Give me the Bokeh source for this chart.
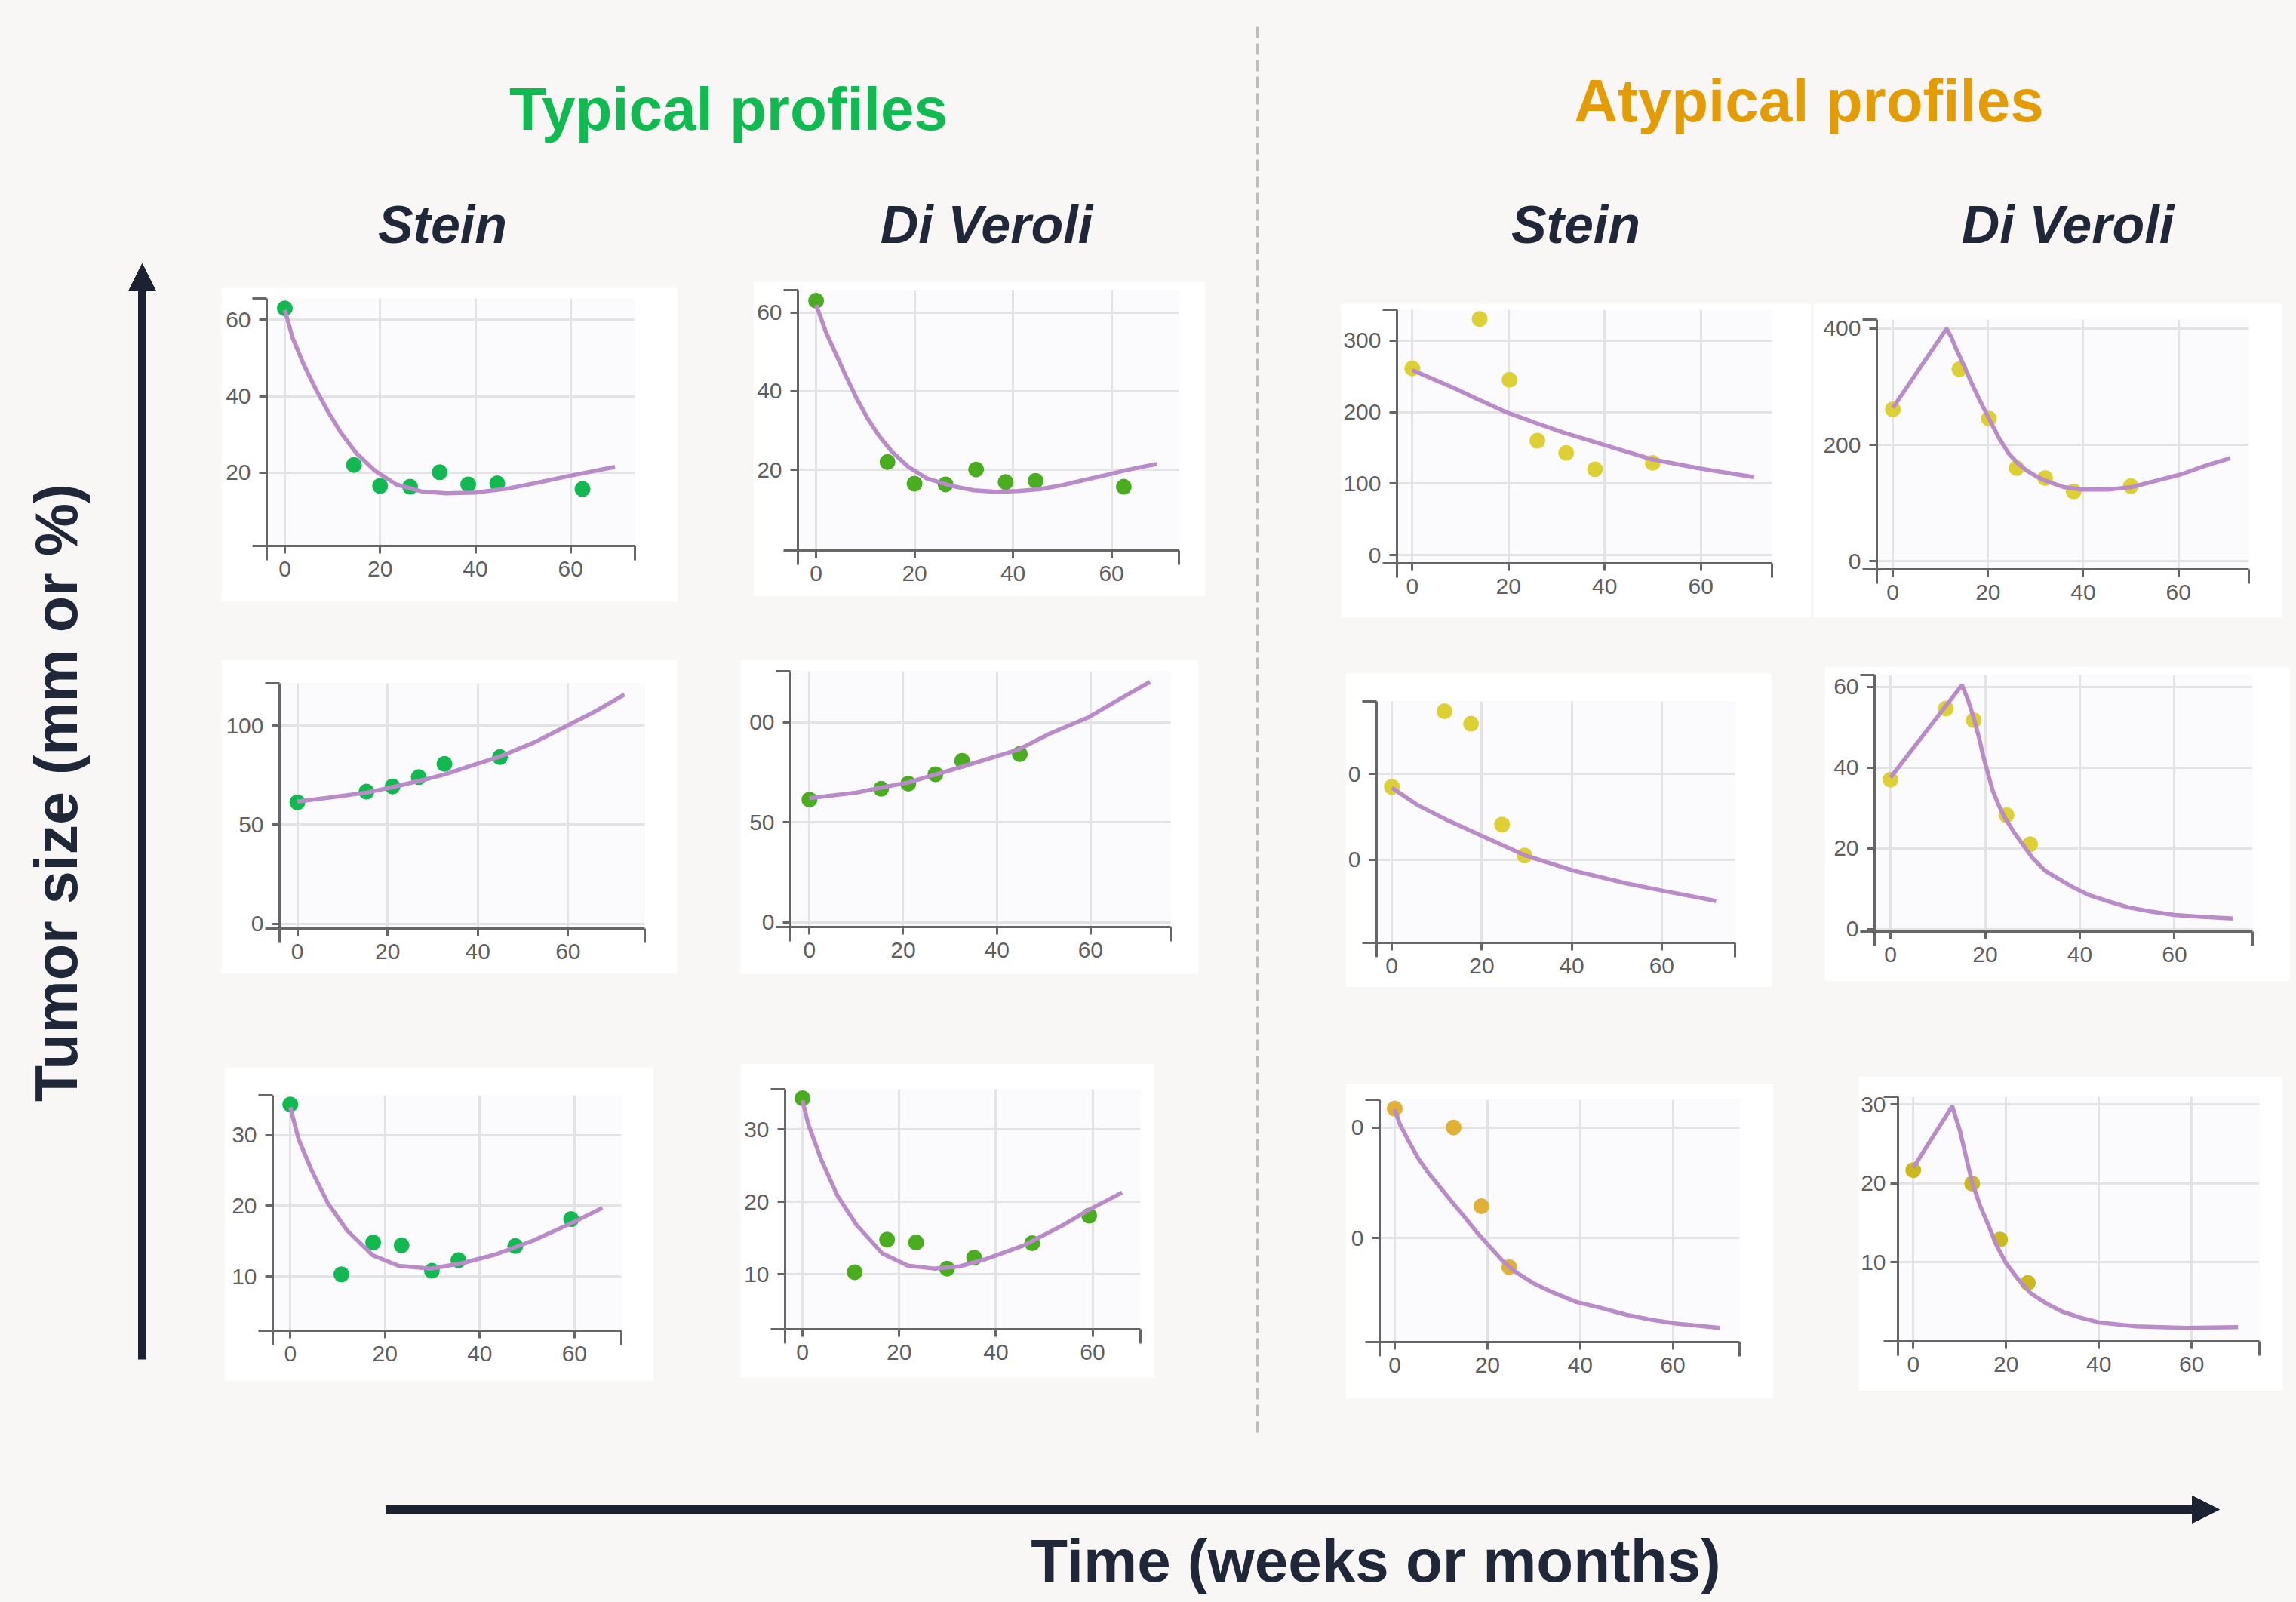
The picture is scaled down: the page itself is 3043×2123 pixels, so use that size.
import math
from bokeh.plotting import figure
from bokeh.models import Range1d, FixedTicker, Label, Arrow, NormalHead, Spacer
from bokeh.layouts import row, column
from bokeh.embed import file_html
from bokeh.resources import INLINE

# ------------------------------------------------------------------ data
time_ticks = [0, 20, 40, 60]

# observed tumour sizes (shared by the Stein and Di Veroli panels of a row)
typ_r1_t = [0, 14.5, 20.0, 26.3, 32.5, 38.5, 44.6, 62.5]
typ_r1_y = [63.0, 22.0, 16.5, 16.3, 20.1, 16.9, 17.2, 15.7]
typ_r2_t = [0, 15.3, 21.1, 26.9, 32.6, 44.9]
typ_r2_y = [61.3, 66.7, 69.3, 74.0, 80.7, 84.1]
typ_r3_t = [0, 10.8, 17.5, 23.5, 29.9, 35.5, 47.5, 59.3]
typ_r3_y = [34.3, 10.3, 14.8, 14.4, 10.8, 12.3, 14.3, 18.1]
aty_r1_t = [0, 14.0, 20.2, 26.0, 32.0, 38.0, 50.0]
aty_r1_y = [261, 330, 245, 160, 143, 120, 129]
aty_r2_t = [0, 11.7, 17.6, 24.5, 29.5]
aty_r2_y = [37.0, 54.6, 51.7, 28.2, 21.0]
aty_r3_t = [0, 12.7, 18.7, 24.7]
aty_r3_y = [21.7, 20.0, 12.9, 7.4]

# fitted model curves
stein_typ1_fit_t = [0, 1.6, 4.0, 6.6, 9.2, 11.8, 15.0, 18.9, 23.4, 28.6, 33.8, 40.2, 46.7, 53.2, 59.6, 69.3]
stein_typ1_fit_y = [62.6, 55.4, 48.2, 41.6, 35.7, 30.4, 25.1, 20.5, 16.9, 15.1, 14.6, 14.8, 15.8, 17.4, 19.1, 21.5]
dive_typ1_fit_t = [0, 2.0, 4.0, 6.0, 8.3, 10.5, 12.8, 15.5, 18.7, 22.5, 27.6, 32.0, 36.6, 41.0, 45.5, 50.0, 54.4, 59.0, 63.3, 69.2]
dive_typ1_fit_y = [61.9, 55.0, 49.5, 44.0, 38.0, 33.0, 28.6, 24.5, 20.8, 17.8, 15.9, 14.8, 14.4, 14.6, 15.1, 16.1, 17.4, 18.7, 20.0, 21.5]
stein_typ2_fit_t = [0, 6.7, 15.3, 21.0, 28.1, 32.7, 38.2, 45.0, 52.5, 60.0, 66.7, 72.5]
stein_typ2_fit_y = [61.7, 63.6, 66.2, 68.9, 72.7, 75.4, 79.5, 84.5, 91.5, 100.1, 108.0, 115.6]
dive_typ2_fit_t = [0, 10.0, 14.9, 21.0, 32.1, 44.5, 51.3, 59.6, 66.5, 72.7]
dive_typ2_fit_y = [62.0, 64.8, 67.1, 69.8, 77.4, 86.2, 94.3, 102.5, 112.0, 120.2]
stein_typ3_fit_t = [0, 1.8, 4.5, 7.9, 12.0, 17.4, 22.9, 29.7, 36.5, 43.3, 51.4, 59.6, 65.9]
stein_typ3_fit_y = [33.9, 29.3, 25.0, 20.4, 16.5, 13.0, 11.5, 11.1, 11.9, 13.1, 15.1, 17.6, 19.7]
dive_typ3_fit_t = [0, 1.2, 3.9, 7.2, 11.2, 16.5, 21.8, 27.2, 32.5, 37.9, 45.8, 53.9, 59.2, 66.1]
dive_typ3_fit_y = [34.0, 30.7, 25.8, 20.9, 16.8, 12.9, 11.2, 10.8, 11.1, 12.1, 14.0, 16.8, 18.9, 21.3]
stein_aty1_fit_t = [0, 8.5, 13.5, 19.9, 25.7, 31.4, 40.3, 49.9, 59.5, 71.0]
stein_aty1_fit_y = [258.6, 234.0, 218.2, 198.8, 184.8, 171.4, 153.2, 133.9, 121.5, 109.2]
dive_aty1_fit_t = [0, 11.3, 12.3, 13.3, 14.9, 16.5, 18.4, 20.4, 22.3, 24.3, 26.2, 28.2, 30.1, 32.1, 35.9,
                   39.8, 45.0, 50.2, 55.3, 60.5, 65.7, 70.9]
dive_aty1_fit_y = [263.5, 399.6, 384.5, 365.0, 337.0, 306.7, 274.3, 241.9, 211.7, 185.7, 168.5, 155.5, 146.0,
                   138.2, 127.4, 123.1, 123.1, 127.4, 138.2, 149.1, 164.1, 177.1]
stein_aty2_fit_t = [0, 5.8, 12.4, 20.4, 29.7, 40.3, 52.2, 60.2, 72.1]
stein_aty2_fit_y = [36.8, 32.7, 29.2, 25.4, 21.0, 17.5, 14.5, 12.8, 10.4]
dive_aty2_fit_t = [0, 15.1, 16.4, 17.7, 18.7, 19.7, 20.7, 21.6, 22.9, 24.2, 26.2, 28.1, 30.1, 32.7, 35.3,
                   38.5, 41.8, 45.7, 50.2, 54.8, 60.0, 65.2, 72.4]
dive_aty2_fit_y = [37.5, 60.4, 56.7, 51.8, 47.4, 42.4, 38.1, 34.3, 30.6, 27.5, 23.8, 20.7, 17.5, 14.4, 12.6,
                   10.4, 8.5, 7.0, 5.4, 4.4, 3.5, 3.1, 2.6]
stein_aty3_fit_t = [0, 1.1, 3.1, 5.1, 7.1, 9.8, 12.5, 15.1, 17.8, 20.5, 23.2, 25.9, 29.9, 33.9, 39.2,
                    44.6, 49.9, 55.3, 60.7, 70.1]
stein_aty3_fit_y = [21.65, 20.3, 18.7, 17.2, 16.0, 14.6, 13.2, 11.9, 10.5, 9.25, 8.0, 7.0, 5.95, 5.15, 4.25,
                    3.7, 3.1, 2.65, 2.3, 1.9]
dive_aty3_fit_t = [0, 8.4, 10.0, 11.3, 12.7, 14.4, 16.0, 18.0, 20.0, 22.7, 25.3, 28.7, 32.0, 36.0, 40.0,
                   48.0, 58.7, 70.0]
dive_aty3_fit_y = [22.0, 29.8, 26.8, 23.6, 20.1, 17.2, 15.0, 12.1, 9.9, 7.8, 6.1, 4.8, 3.8, 3.0, 2.4,
                   1.9, 1.7, 1.8]

# ------------------------------------------------------------------ style
PAGE_BG = "#f8f7f5"
PLOT_BG = "#fbfbfd"
AXIS_C = "#666666"
GRID_C = "#e3e3e3"
FIT_C = "#b98bc9"
DARK = "#1f2738"
ARROW_C = "#1c2232"
GREEN_T = "#0fbb50"
ORANGE_T = "#e39c04"
FONT = "Liberation Sans"

STEIN_TYP = "#12b850"
DIVE_TYP = "#4aac1f"
ATY_YEL = "#ddd035"
ATY_STEIN3 = "#e1b135"
ATY_DIVE3 = "#c9b91c"

BASELINE_FIX = 0.35   # label anchor correction (fraction of the font size)


def make_panel(box, frame, xr, yr, yticks, t, y, pcolor, ft, fy, overrides=None, ystandoff=2):
    bl, bt, br, bb = box
    fl, ftop, fr, fb = frame
    p = figure(width=br - bl, height=bb - bt, title=None,
               x_range=Range1d(*xr), y_range=Range1d(*yr),
               output_backend="svg", toolbar_location=None,
               min_border_left=fl - bl, min_border_right=br - fr,
               min_border_top=ftop - bt, min_border_bottom=bb - fb)
    p.background_fill_color = PLOT_BG
    p.border_fill_color = "#ffffff"
    p.outline_line_color = None
    ex = (xr[1] - xr[0]) * 1e-4
    ey = (yr[1] - yr[0]) * 1e-4
    p.xaxis.ticker = FixedTicker(ticks=time_ticks, minor_ticks=[xr[0] + ex, xr[1] - ex])
    p.yaxis.ticker = FixedTicker(ticks=yticks, minor_ticks=[yr[0] + ey, yr[1] - ey])
    p.xgrid.ticker = FixedTicker(ticks=time_ticks)
    p.ygrid.ticker = FixedTicker(ticks=yticks)
    for g in (p.xgrid, p.ygrid):
        g.grid_line_color = GRID_C
        g.grid_line_width = 3
    for ax in (p.xaxis, p.yaxis):
        ax.axis_label = None
        ax.axis_line_color = AXIS_C
        ax.axis_line_width = 3
        ax.major_tick_line_color = AXIS_C
        ax.major_tick_line_width = 3
        ax.minor_tick_line_color = AXIS_C
        ax.minor_tick_line_width = 3
        ax.major_tick_in = 0
        ax.minor_tick_in = 0
        ax.major_tick_out = 10
        ax.minor_tick_out = 19
        ax.major_label_text_font = FONT
        ax.major_label_text_font_size = "30px"
        ax.major_label_text_color = "#5f5f5f"
    p.xaxis.major_label_standoff = 1
    p.yaxis.major_label_standoff = ystandoff
    if overrides:
        p.yaxis.major_label_overrides = overrides
    p.scatter(t, y, size=21, fill_color=pcolor, line_color=None)
    p.line(ft, fy, line_color=FIT_C, line_width=5.5)
    return p


def deco_fig(x0, x1, y0, y1):
    p = figure(width=x1 - x0, height=y1 - y0, title=None,
               x_range=Range1d(x0, x1), y_range=Range1d(-y1, -y0),
               output_backend="svg", toolbar_location=None, min_border=0,
               x_axis_location=None, y_axis_location=None)
    p.background_fill_color = PAGE_BG
    p.border_fill_color = PAGE_BG
    p.outline_line_color = None
    p.grid.visible = False
    return p


def add_text(p, x, y, text, size, color, style="bold", angle=0.0):
    # (x, y) = wanted baseline centre in page pixels
    d = BASELINE_FIX * size
    lx = x - d * math.sin(angle)
    ly = -(y - d * math.cos(angle))
    p.add_layout(Label(x=lx, y=ly, text=text, text_font=FONT,
                       text_font_size=f"{size}px", text_font_style=style,
                       text_color=color, text_align="center",
                       text_baseline="alphabetic", angle=angle))


def spacer(w, h):
    return Spacer(width=w, height=h, styles={"background-color": PAGE_BG})


# ------------------------------------------------------------------ panels
# (box = white card, frame = plot area; page pixel positions)
GEOM = {}


def panel(name, box, frame, *args, **kw):
    f = make_panel(box, frame, *args, **kw)
    GEOM[name] = (f, box)
    return name


panel("P11", (293, 381, 898, 797), (353, 395, 841, 723), (-3.8, 73.5), (0.8, 65.6),
      [20, 40, 60], typ_r1_t, typ_r1_y, STEIN_TYP, stein_typ1_fit_t, stein_typ1_fit_y)
panel("P12", (998, 373, 1597, 790), (1057, 384, 1562, 729), (-3.7, 73.7), (-0.5, 65.7),
      [20, 40, 60], typ_r1_t, typ_r1_y, DIVE_TYP, dive_typ1_fit_t, dive_typ1_fit_y)
panel("P21", (293, 874, 897, 1290), (370, 905, 854, 1230), (-3.96, 77.0), (-2.3, 121.3),
      [0, 50, 100], typ_r2_t, typ_r2_y, STEIN_TYP, stein_typ2_fit_t, stein_typ2_fit_y)
panel("P22", (981, 874, 1588, 1291), (1047, 889, 1551, 1228), (-4.07, 77.1), (-2.4, 125.5),
      [0, 50, 100], typ_r2_t, typ_r2_y, DIVE_TYP, dive_typ2_fit_t, dive_typ2_fit_y,
      overrides={100: "00"})
panel("P31", (297, 1414, 866, 1830), (361, 1451, 823, 1763), (-3.7, 69.9), (2.33, 35.6),
      [10, 20, 30], typ_r3_t, typ_r3_y, STEIN_TYP, stein_typ3_fit_t, stein_typ3_fit_y)
panel("P32", (981, 1409, 1530, 1826), (1040, 1443, 1511, 1761), (-3.6, 69.9), (2.43, 35.55),
      [10, 20, 30], typ_r3_t, typ_r3_y, DIVE_TYP, dive_typ3_fit_t, dive_typ3_fit_y)
panel("P13", (1777, 402, 2400, 818), (1849, 410, 2348, 746), (-3.19, 74.8), (-11.3, 342.9),
      [0, 100, 200, 300], aty_r1_t, aty_r1_y, ATY_YEL, stein_aty1_fit_t, stein_aty1_fit_y)
panel("P14", (2403, 402, 3024, 818), (2487, 423, 2980, 754), (-3.36, 74.8), (-13.9, 415.2),
      [0, 200, 400], aty_r1_t, aty_r1_y, ATY_YEL, dive_aty1_fit_t, dive_aty1_fit_y)
panel("P23", (1783, 891, 2348, 1308), (1824, 929, 2299, 1249), (-3.39, 76.3), (0.65, 56.9),
      [20, 40], aty_r2_t, aty_r2_y, ATY_YEL, stein_aty2_fit_t, stein_aty2_fit_y,
      overrides={20: "0", 40: "0"})
panel("P24", (2418, 883, 3035, 1300), (2484, 894, 2985, 1234), (-3.35, 76.5), (-0.6, 62.9),
      [0, 20, 40, 60], aty_r2_t, aty_r2_y, ATY_YEL, dive_aty2_fit_t, dive_aty2_fit_y)
panel("P33", (1783, 1436, 2350, 1853), (1828, 1457, 2305, 1778), (-3.26, 74.4), (0.63, 22.5),
      [10, 20], aty_r3_t, aty_r3_y, ATY_STEIN3, stein_aty3_fit_t, stein_aty3_fit_y,
      overrides={10: "0", 20: "0"})
panel("P34", (2463, 1426, 3025, 1843), (2513, 1453, 2994, 1777), (-3.29, 74.6), (0.0, 31.0),
      [10, 20, 30], aty_r3_t, aty_r3_y, ATY_DIVE3, dive_aty3_fit_t, dive_aty3_fit_y,
      ystandoff=-3)

MID_TOP, MID_BOT = 340, 1925


def panel_column(names, x0, x1):
    colw = x1 - x0
    items = []
    cur = MID_TOP
    for n in names:
        f, (bl, bt, br, bb) = GEOM[n]
        if bt - cur > 0:
            items.append(spacer(colw, bt - cur))
        cells = []
        if bl - x0 > 0:
            cells.append(spacer(bl - x0, bb - bt))
        cells.append(f)
        if x1 - br > 0:
            cells.append(spacer(x1 - br, bb - bt))
        items.append(row(*cells))
        cur = bb
    if MID_BOT - cur > 0:
        items.append(spacer(colw, MID_BOT - cur))
    return column(*items)


# ------------------------------------------------------------------ decorations
# left strip: y-axis arrow and label
L = deco_fig(8, 285, 8, MID_BOT)
L.add_layout(Arrow(end=NormalHead(size=36, fill_color=ARROW_C, line_color=ARROW_C, line_width=1),
                   x_start=188, y_start=-1801, x_end=188, y_end=-349,
                   line_color=ARROW_C, line_width=11))
add_text(L, 102, 1050, "Tumor size (mm or %)", 79, DARK, angle=math.pi / 2)

# typical header
TH = deco_fig(285, 1620, 8, MID_TOP)
add_text(TH, 965, 172, "Typical profiles", 80, GREEN_T)
add_text(TH, 586, 322, "Stein", 70, DARK, style="bold italic")
add_text(TH, 1307, 322, "Di Veroli", 70, DARK, style="bold italic")

# separator
S = deco_fig(1620, 1720, 8, MID_BOT)
S.line([1666, 1666], [-35, -1898], line_color="#bdbdbd", line_width=4, line_dash="15 7")

# atypical header
AH = deco_fig(1720, 3035, 8, MID_TOP)
add_text(AH, 2397, 161, "Atypical profiles", 80, ORANGE_T)
add_text(AH, 2088, 322, "Stein", 70, DARK, style="bold italic")
add_text(AH, 2740, 322, "Di Veroli", 70, DARK, style="bold italic")

# bottom strip: time arrow and label
B = deco_fig(8, 3035, MID_BOT, 2115)
B.add_layout(Arrow(end=NormalHead(size=36, fill_color=ARROW_C, line_color=ARROW_C, line_width=1),
                   x_start=511, y_start=-2000, x_end=2941, y_end=-2000,
                   line_color=ARROW_C, line_width=11))
add_text(B, 1823, 2096, "Time (weeks or months)", 80, DARK)

# ------------------------------------------------------------------ layout
T_block = column(TH, row(panel_column(["P11", "P21", "P31"], 285, 940),
                         panel_column(["P12", "P22", "P32"], 940, 1620)))
A_block = column(AH, row(panel_column(["P13", "P23", "P33"], 1720, 2401),
                         panel_column(["P14", "P24", "P34"], 2401, 3035)))
page = column(row(L, T_block, S, A_block), B)

html = file_html(page, INLINE, title="Tumor size profiles")
html = html.replace("</head>",
                    "<style>html { background-color: #f8f7f5 !important; } "
                    "body { background-color: #f8f7f5 !important; margin: 8px !important; }</style></head>", 1)
open("out.html", "w").write(html)
